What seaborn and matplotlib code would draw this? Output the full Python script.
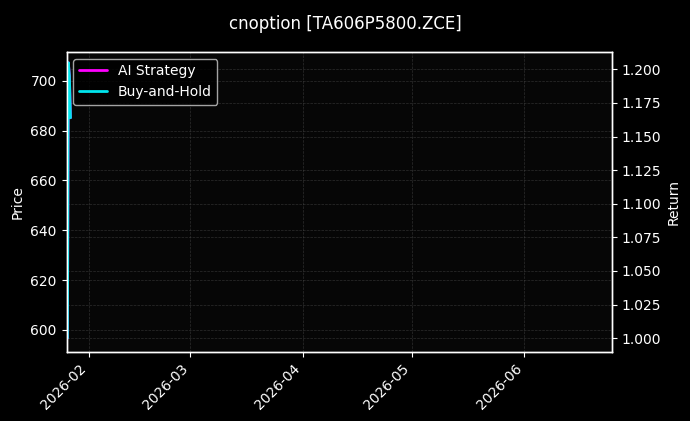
import matplotlib
matplotlib.use("Agg")
import matplotlib.pyplot as plt
import matplotlib.dates as mdates
import seaborn as sns
import pandas as pd

# ---- data ----
dates = ["2026-01-26 04:00", "2026-01-26 10:00", "2026-01-26 17:00", "2026-01-27 00:00"]
price = [596.8, 706.1, 700.0, 685.0]
ai_strategy = [1.000, 1.205, 1.195, 1.164]
buy_and_hold = [1.000, 1.205, 1.195, 1.164]
title = "cnoption [TA606P5800.ZCE]"

df = pd.DataFrame({
    "date": pd.to_datetime(dates),
    "price": price,
    "ai": ai_strategy,
    "bh": buy_and_hold,
})

sns.set_theme(style="dark", rc={
    "figure.facecolor": "black",
    "axes.facecolor": "#060606",
    "axes.edgecolor": "white",
    "axes.labelcolor": "white",
    "text.color": "white",
    "xtick.color": "white",
    "ytick.color": "white",
    "xtick.bottom": True,
    "ytick.left": True,
    "axes.linewidth": 1.0,
})
plt.rcParams["font.family"] = ["DejaVu Sans"]

fig = plt.figure(figsize=(6.9, 4.21), dpi=100)
ax = fig.add_axes([0.0964, 0.165, 0.7899, 0.712])
ax2 = ax.twinx()

sns.lineplot(data=df, x="date", y="price", ax=ax, color="#3399ff", alpha=0.7, linewidth=1.2)
sns.lineplot(data=df, x="date", y="ai", ax=ax2, color="#ff00ff", linewidth=2, label="AI Strategy")
sns.lineplot(data=df, x="date", y="bh", ax=ax2, color="#00e5ee", linewidth=2, label="Buy-and-Hold")

ax.set_xlim(pd.Timestamp("2026-01-25 22:00"), pd.Timestamp("2026-06-25"))
ax.set_ylim(591.3, 711.6)
ax2.set_ylim(0.990, 1.2131)

ax.set_xlabel("")
ax.set_ylabel("Price", fontsize=10)
ax2.set_ylabel("Return", fontsize=10)
ax.xaxis.set_major_locator(mdates.MonthLocator())
ax.xaxis.set_major_formatter(mdates.DateFormatter("%Y-%m"))
plt.setp(ax.get_xticklabels(), rotation=45, ha="right")
ax.tick_params(axis="both", labelsize=10, length=3.5, width=0.8, colors="white")
ax2.tick_params(axis="y", labelsize=10, length=3.5, width=0.8, colors="white", right=True)

for a in (ax, ax2):
    a.grid(True, linestyle="--", linewidth=0.5, color="#555555", alpha=0.5)
    for s in a.spines.values():
        s.set_color("white")
ax2.set_facecolor("none")

leg = ax2.legend(loc="upper left", fontsize=10, facecolor="black", edgecolor="#cccccc", framealpha=0.8)
for t in leg.get_texts():
    t.set_color("white")

fig.suptitle(title, fontsize=12, color="white", y=0.965)
fig.savefig("out.png", dpi=100, facecolor="black")
